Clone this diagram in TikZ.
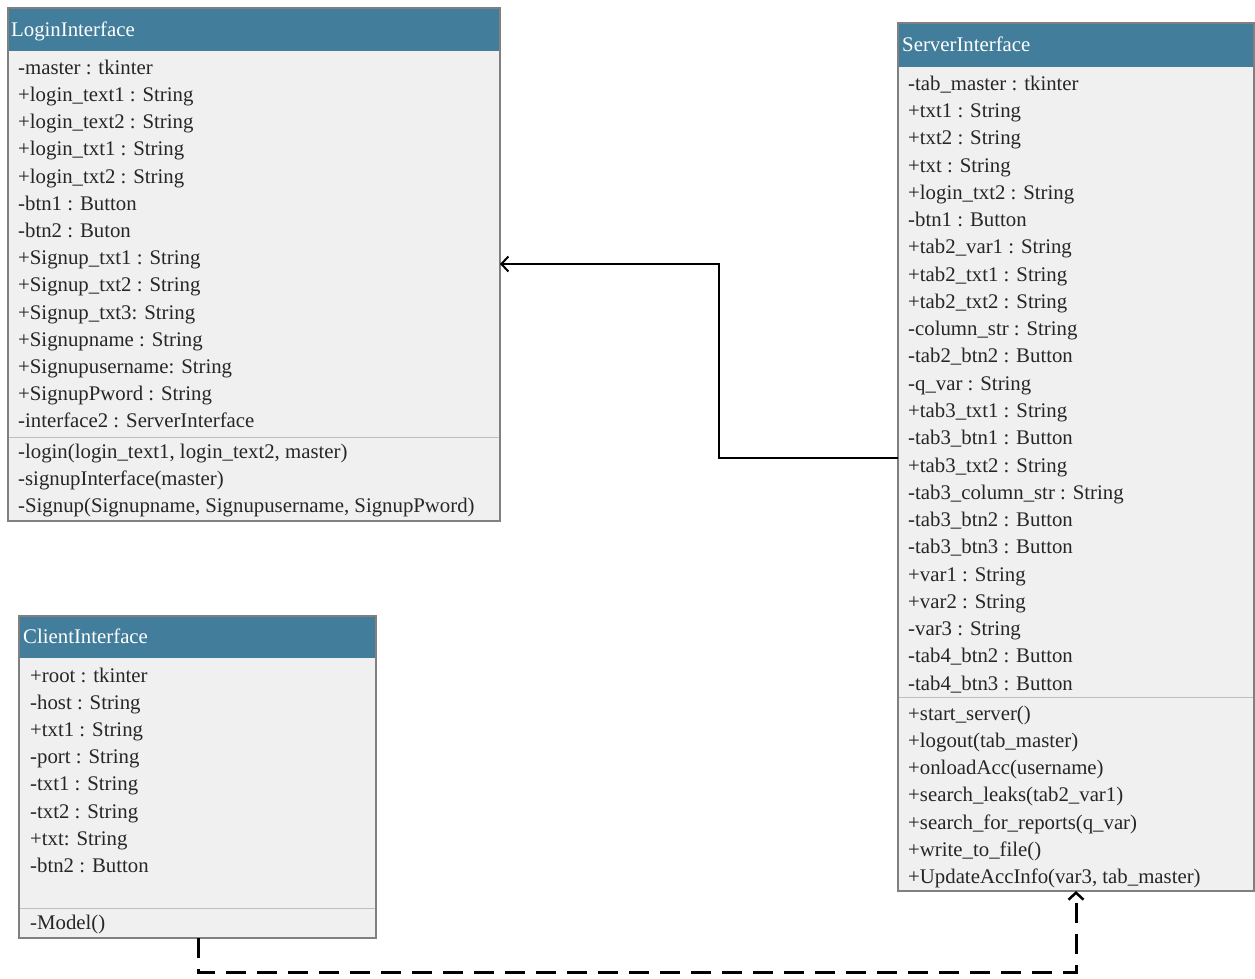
\documentclass[tikz,border=0pt]{standalone}
\usepackage{fontspec}
\setmainfont{Liberation Serif}
\usetikzlibrary{arrows.meta}
\definecolor{headblue}{RGB}{66,126,155}
\definecolor{bodygray}{RGB}{240,240,240}
\definecolor{edgegray}{RGB}{128,128,128}
\definecolor{sepgray}{RGB}{190,190,190}
\tikzset{
  classbox/.style={draw=edgegray, line width=1.2pt, fill=bodygray, inner sep=0pt, anchor=north west},
  headbar/.style={fill=headblue},
  title/.style={anchor=west, inner sep=0pt, yshift=-2pt, text height=14pt, text depth=4.5pt, text=white, font=\fontsize{20.8}{24}\selectfont},
  member/.style={anchor=west, inner sep=0pt, yshift=-2.5pt, text height=14pt, text depth=4.5pt, text=black!85, font=\fontsize{20.8}{24}\selectfont},
  sepline/.style={draw=sepgray, line width=0.8pt},
  assoc/.style={draw=black, line width=2pt, -{Straight Barb[length=7pt,width=15pt,line width=2pt]}},
  depend/.style={draw=black, line width=3pt, dash pattern=on 20pt off 11pt, -{Straight Barb[length=7pt,width=15pt,line width=2.5pt]}}
}
\begin{document}
\begin{tikzpicture}[x=1pt,y=-1pt]
\useasboundingbox (0,0) rectangle (1255,979);

% ---------- LoginInterface ----------
\node[classbox, minimum width=492pt, minimum height=513pt] (login) at (8,8) {};
\fill[headbar] (8,8) rectangle (500,51);
\draw[edgegray, line width=1.2pt] (8,8) rectangle (500,521);
\node[title] (loginT) at (11,29.5) {LoginInterface};
\foreach \t [count=\i from 0] in {
  {-master : tkinter},
  {+login\_text1 : String},
  {+login\_text2 : String},
  {+login\_txt1 : String},
  {+login\_txt2 : String},
  {-btn1 : Button},
  {-btn2 : Buton},
  {+Signup\_txt1 : String},
  {+Signup\_txt2 : String},
  {+Signup\_txt3: String},
  {+Signupname : String},
  {+Signupusername: String},
  {+SignupPword : String},
  {-interface2 : ServerInterface}}
  \node[member] (la\i) at (18,67+27.2*\i) {\t};
\draw[sepline] (9,437) -- (499,437);
\foreach \t [count=\i from 0] in {
  {-login(login\_text1, login\_text2, master)},
  {-signupInterface(master)},
  {-Signup(Signupname, Signupusername, SignupPword)}}
  \node[member] (lm\i) at (18,451+27.2*\i) {\t};

% ---------- ServerInterface ----------
\node[classbox, minimum width=356pt, minimum height=868pt] (server) at (898,23) {};
\fill[headbar] (898,23) rectangle (1254,67);
\draw[edgegray, line width=1.2pt] (898,23) rectangle (1254,891);
\node[title] (serverT) at (902,45) {ServerInterface};
\foreach \t [count=\i from 0] in {
  {-tab\_master : tkinter},
  {+txt1 : String},
  {+txt2 : String},
  {+txt : String},
  {+login\_txt2 : String},
  {-btn1 : Button},
  {+tab2\_var1 : String},
  {+tab2\_txt1 : String},
  {+tab2\_txt2 : String},
  {-column\_str : String},
  {-tab2\_btn2 : Button},
  {-q\_var : String},
  {+tab3\_txt1 : String},
  {-tab3\_btn1 : Button},
  {+tab3\_txt2 : String},
  {-tab3\_column\_str : String},
  {-tab3\_btn2 : Button},
  {-tab3\_btn3 : Button},
  {+var1 : String},
  {+var2 : String},
  {-var3 : String},
  {-tab4\_btn2 : Button},
  {-tab4\_btn3 : Button}}
  \node[member] (sa\i) at (908,83+27.27*\i) {\t};
\draw[sepline] (899,697) -- (1253,697);
\foreach \t [count=\i from 0] in {
  {+start\_server()},
  {+logout(tab\_master)},
  {+onloadAcc(username)},
  {+search\_leaks(tab2\_var1)},
  {+search\_for\_reports(q\_var)},
  {+write\_to\_file()},
  {+UpdateAccInfo(var3, tab\_master)}}
  \node[member] (sm\i) at (908,713+27.2*\i) {\t};

% ---------- ClientInterface ----------
\node[classbox, minimum width=357pt, minimum height=322pt] (client) at (19,616) {};
\fill[headbar] (19,616) rectangle (376,658);
\draw[edgegray, line width=1.2pt] (19,616) rectangle (376,938);
\node[title] (clientT) at (23,637) {ClientInterface};
\foreach \t [count=\i from 0] in {
  {+root : tkinter},
  {-host : String},
  {+txt1 : String},
  {-port : String},
  {-txt1 : String},
  {-txt2 : String},
  {+txt: String},
  {-btn2 : Button}}
  \node[member] (ca\i) at (30,675+27.15*\i) {\t};
\draw[sepline] (20,908) -- (375,908);
\node[member] (cm0) at (30,922) {-Model()};

% ---------- relations ----------
\coordinate (srvOut) at (898,458);
\coordinate (loginIn) at (500,264);
\draw[assoc] (srvOut) -- (719,458) -- (719,264) -- (loginIn);

\coordinate (cliOut) at (198,938);
\coordinate (srvIn) at (1076,891);
\draw[depend] (cliOut) -- (198,972) -- (1076,972) -- (srvIn);
\end{tikzpicture}
\end{document}
